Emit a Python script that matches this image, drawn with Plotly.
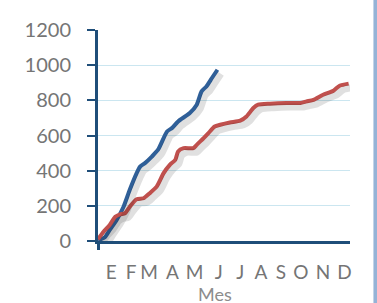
import plotly.graph_objects as go

# Data (day of year, cumulative value)
blue_days = [0, 10, 17, 27, 37, 46, 56, 61, 68, 78, 87, 100, 107, 116, 133, 143, 150, 157, 165, 173]
blue_vals = [5, 21, 63, 120, 195, 291, 386, 423, 443, 480, 519, 623, 642, 680, 728, 775, 851, 879, 927, 974]

red_days = [0, 8, 17, 25, 32, 39, 46, 56, 66, 75, 85, 95, 104, 112, 116, 124, 138, 143, 153, 160,
            169, 177, 191, 206, 215, 225, 232, 249, 273, 293, 302, 312, 326, 341, 350, 363]
red_vals = [10, 53, 91, 138, 152, 158, 195, 238, 243, 272, 309, 386, 433, 462, 509, 528, 528, 547, 585, 614,
            651, 661, 674, 684, 708, 756, 775, 781, 785, 785, 794, 803, 832, 855, 883, 895]

month_labels = ["E", "F", "M", "A", "M", "J", "J", "A", "S", "O", "N", "D"]
month_ticks = [19, 48, 74, 108, 140, 175, 206, 236, 265, 294, 326, 357]
y_ticks = [0, 200, 400, 600, 800, 1000, 1200]

BLUE = "#2F5F98"
RED = "#C0504D"
AXIS = "#1F4E79"
GRID = "#CBE6F0"
TEXT = "#757575"
FONT = "Lato, 'Open Sans', sans-serif"

fig = go.Figure()

# Shadows drawn on offset overlay axes
for d, v in [(blue_days, blue_vals), (red_days, red_vals)]:
    fig.add_trace(go.Scatter(x=d, y=v, mode="lines", xaxis="x2", yaxis="y2",
                             line=dict(color="rgba(0,0,0,0.12)", width=7, shape="spline", smoothing=0.6),
                             hoverinfo="skip", showlegend=False))

fig.add_trace(go.Scatter(x=blue_days, y=blue_vals, mode="lines",
                         line=dict(color=BLUE, width=4, shape="spline", smoothing=0.6), showlegend=False))
fig.add_trace(go.Scatter(x=red_days, y=red_vals, mode="lines",
                         line=dict(color=RED, width=4, shape="spline", smoothing=0.6), showlegend=False))

# invisible trace to carry the crossing tick below the origin
fig.add_trace(go.Scatter(x=[0], y=[0], xaxis="x3", mode="markers", marker=dict(opacity=0),
                         hoverinfo="skip", showlegend=False))

fig.update_layout(
    width=377, height=303,
    margin=dict(l=98, r=27, t=30, b=62, autoexpand=False),
    paper_bgcolor="white", plot_bgcolor="white",
    font=dict(family=FONT, color=TEXT, size=20),
    xaxis=dict(range=[0, 365], tickvals=month_ticks, ticktext=month_labels, automargin=False,
               showgrid=False, zeroline=False, showline=True, linecolor=AXIS, linewidth=3,
               ticks="", ticklabelstandoff=12, tickfont=dict(size=19, color=TEXT)),
    yaxis=dict(range=[0, 1200], tickvals=y_ticks, showgrid=True, gridcolor=GRID, gridwidth=1,
               zeroline=False, showline=True, linecolor=AXIS, linewidth=3, automargin=False,
               ticks="outside", ticklen=8, tickwidth=2, tickcolor=AXIS,
               ticklabelstandoff=12, tickfont=dict(size=20, color=TEXT)),
    xaxis2=dict(overlaying="x", range=[-5, 360], visible=False, automargin=False),
    yaxis2=dict(overlaying="y", range=[23, 1223], visible=False, automargin=False),
    xaxis3=dict(overlaying="x", range=[0, 365], visible=True, showline=False, showgrid=False,
                zeroline=False, tickvals=[0], ticktext=[""], ticks="outside", ticklen=8,
                tickwidth=3, tickcolor=AXIS, side="bottom", anchor="y", automargin=False),
    shapes=[dict(type="rect", xref="paper", yref="paper", x0=1.093, x1=1.12, y0=-0.4, y1=1.2,
                 fillcolor="#95B3D7", line=dict(width=0), layer="below")],
    annotations=[dict(text="Mes", xref="paper", yref="paper", x=0.464, y=-0.19,
                      xanchor="center", yanchor="top", showarrow=False,
                      font=dict(size=18, color="#8C8C8C", family=FONT))],
)

fig.write_html("out.html", config={"displayModeBar": False},
               post_script="document.body.style.margin='0';document.body.style.overflow='hidden';")
